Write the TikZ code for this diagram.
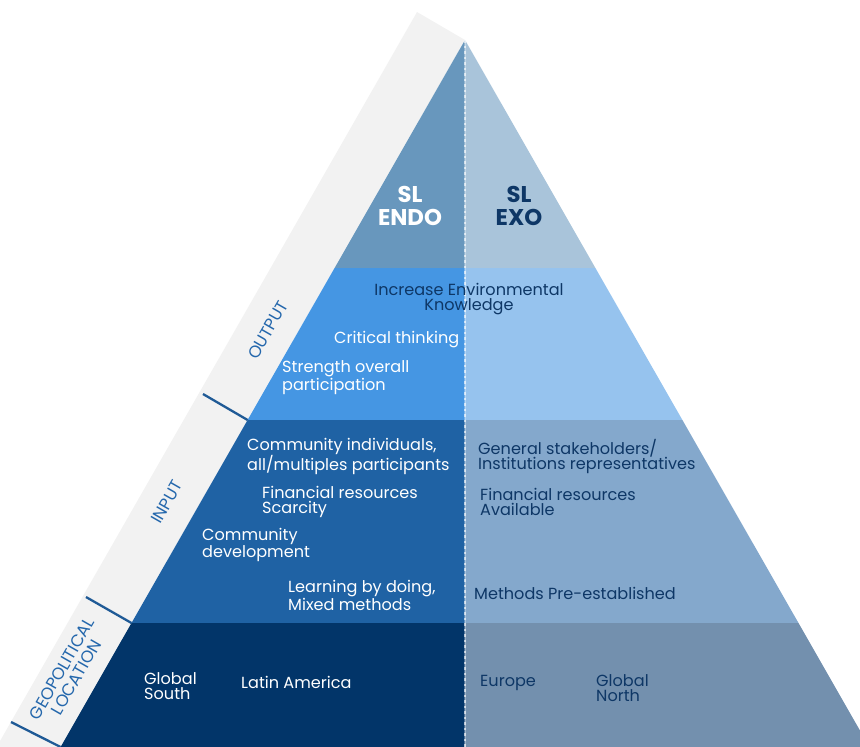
\documentclass[tikz,border=0pt]{standalone}
\usepackage{fontspec}
\setmainfont{Poppins}
\begin{document}
\begin{tikzpicture}[x=1pt,y=-1pt,
  lbl/.style={font=\fontsize{16.1}{14.9}\selectfont, inner sep=0pt, align=left, anchor=west},
  lightlbl/.style={lbl, text=white},
  darklbl/.style={lbl, text=navytext},
  headlbl/.style={font=\fontsize{22.8}{22.2}\selectfont\bfseries, inner sep=0pt, align=center},
  sidelbl/.style={font=\fontsize{16.8}{16.6}\selectfont, text=sidetext, inner sep=0pt, align=center, rotate=60.2},
  tick/.style={draw=tickblue, line width=2.3pt}
]
\definecolor{stripgray}{HTML}{F2F2F2}
\definecolor{topL}{HTML}{6897BD}
\definecolor{topR}{HTML}{A9C4DA}
\definecolor{outL}{HTML}{4596E3}
\definecolor{outR}{HTML}{96C3EE}
\definecolor{inL}{HTML}{1F62A4}
\definecolor{inR}{HTML}{84A8CC}
\definecolor{geoL}{HTML}{023569}
\definecolor{geoR}{HTML}{7390AE}
\definecolor{navytext}{HTML}{0E3766}
\definecolor{sidetext}{HTML}{2467AC}
\definecolor{tickblue}{HTML}{1F5A96}

\useasboundingbox (0,0) rectangle (860,747);
\clip (0,0) rectangle (860,747);

% side strip
\fill[stripgray] (417,12) -- (465,40) -- (30.3,800) -- (-33.7,800) -- cycle;

% key points of the pyramid
\coordinate (apex) at (465,40);
\coordinate (L1) at (334.6,268); \coordinate (R1) at (595.4,268);
\coordinate (L2) at (247.6,420); \coordinate (R2) at (682.4,420);
\coordinate (L3) at (131.5,623); \coordinate (R3) at (798.5,623);
\coordinate (L4) at (30.3,800);  \coordinate (R4) at (899.7,800);
\coordinate (M1) at (465,268); \coordinate (M2) at (465,420);
\coordinate (M3) at (465,623); \coordinate (M4) at (465,800);

% bands
\fill[topL] (apex) -- (L1) -- (M1) -- cycle;
\fill[topR] (apex) -- (M1) -- (R1) -- cycle;
\fill[outL] (L1) -- (M1) -- (M2) -- (L2) -- cycle;
\fill[outR] (M1) -- (R1) -- (R2) -- (M2) -- cycle;
\fill[inL] (L2) -- (M2) -- (M3) -- (L3) -- cycle;
\fill[inR] (M2) -- (R2) -- (R3) -- (M3) -- cycle;
\fill[geoL] (L3) -- (M3) -- (M4) -- (L4) -- cycle;
\fill[geoR] (M3) -- (R3) -- (R4) -- (M4) -- cycle;

% centre divider
\draw[white, opacity=0.3, line width=2.6pt] (apex) -- (M4);
\draw[white, opacity=0.6, line width=2.2pt, dash pattern=on 2.5pt off 3pt] (apex) -- (M4);

% ticks on the strip
\coordinate (T2) at (203,394);
\coordinate (T3) at (86,597);
\coordinate (T4) at (11,722);
\coordinate (B4) at (60.6,747);
\draw[tick] (L2) -- (T2);
\draw[tick] (L3) -- (T3);
\draw[tick] (B4) -- (T4);

% strip labels
\node[sidelbl] (sOut) at (268,330) {OUTPUT};
\node[sidelbl] (sIn) at (167,502) {INPUT};
\node[sidelbl] (sGeo) at (69,673) {GEOPOLITICAL\\LOCATION};

% headings
\node[headlbl, text=white] (endo) at (410,206) {SL\\ENDO};
\node[headlbl, text=navytext] (exo) at (519,206) {SL\\EXO};

% output band
\node[lbl, text=navytext, align=center, anchor=center] (env) at (469,299) {Increase Environmental\\Knowledge};
\node[lightlbl] (crit) at (334,340) {Critical thinking};
\node[lightlbl] (str) at (282,377.5) {Strength overall\\participation};

% input band, endo side
\node[lightlbl] (comm) at (247,456.5) {Community individuals,\\all/multiples participants};
\node[lightlbl] (finS) at (262,502) {Financial resources\\Scarcity};
\node[lightlbl] (dev) at (202,545) {Community\\development};
\node[lightlbl] (learn) at (288,595.5) {Learning by doing,\\Mixed methods};

% input band, exo side
\node[darklbl] (gen) at (478,456.5) {General stakeholders/\\Institutions representatives};
\node[darklbl] (finA) at (480,502) {Financial resources\\Available};
\node[darklbl] (meth) at (474,593) {Methods Pre-established};

% geopolitical band
\node[lightlbl] (gs) at (144,686.5) {Global\\South};
\node[lightlbl] (la) at (241,682) {Latin America};
\node[darklbl] (eu) at (480,682.5) {Europe};
\node[darklbl] (gn) at (596,688) {Global\\North};
\end{tikzpicture}
\end{document}
